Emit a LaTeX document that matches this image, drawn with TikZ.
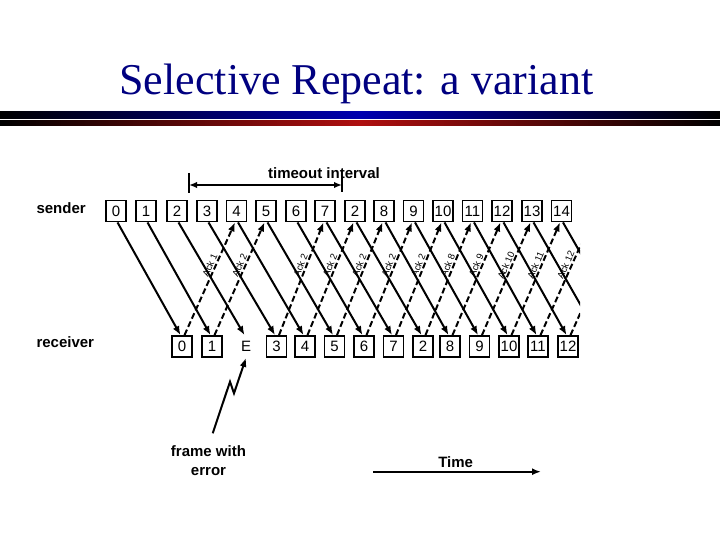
\documentclass[tikz,border=0pt]{standalone}
\usepackage{fontspec}
\setmainfont{Liberation Sans}
\newfontfamily\titlefont{Liberation Serif}
\usetikzlibrary{arrows.meta}
\definecolor{navy}{RGB}{0,0,128}
\definecolor{barblue}{RGB}{0,0,175}
\definecolor{barred}{RGB}{175,15,15}
\begin{document}
\begin{tikzpicture}[x=1pt,y=-1pt,
  box/.style={draw, line width=1.8pt, minimum width=20pt, minimum height=21pt, inner sep=0pt, font=\fontsize{15}{15}\selectfont},
  frame/.style={line width=2pt, -{Latex[length=9pt,width=7pt]}},
  ack/.style={line width=2pt, dash pattern=on 6pt off 3pt, -{Latex[length=9pt,width=7pt]}},
  acklbl/.style={sloped, above, pos=0.6, inner sep=1pt, font=\fontsize{9.5}{9.5}\selectfont},
  lbl/.style={font=\bfseries\fontsize{15}{19}\selectfont},
  tick/.style={line width=2pt}
]
\useasboundingbox (0,0) rectangle (720,540);
% title
\node[anchor=base, text=navy, font=\titlefont\fontsize{44}{44}\selectfont] (title) at (356.5,95) {Selective Repeat: a variant};
\fill[left color=black, right color=black, middle color=barblue] (0,111.5) rectangle (720,118.3);
\fill[left color=black, right color=black, middle color=barred] (0,120.5) rectangle (720,125.3);
% labels
\node[lbl, anchor=west] (snd) at (33,208) {sender};
\node[lbl, anchor=west] (rcv) at (33,342) {receiver};
\node[lbl] (tmo) at (324,173) {timeout interval};
\node[lbl, align=center] (err) at (208.5,461) {frame with\\error};
\node[lbl] (time) at (455.7,462) {Time};
% sender boxes
\foreach \x/\t [count=\i from 0] in {116/0,146/1,177/2,207/3,236.5/4,266/5,296/6,325/7,355/2,384/8,413.5/9,443/10,472.5/11,502/12,532/13,561.5/14}
  \node[box] (s\i) at (\x,211) {\t};
% receiver boxes
\foreach \i/\x/\t in {0/182/0,1/212/1,3/276.5/3,4/305/4,5/334.5/5,6/364/6,7/393.5/7,8/423/2,9/450/8,10/479.5/9,11/509/10,12/538/11,13/568/12}
  \node[box] (r\i) at (\x,346.5) {\t};
\node[box, draw=none] (r2) at (246,346.5) {E};
% free ends
\coordinate (f14) at (598,335.5);
\coordinate (f15) at (627.5,335.5);
\coordinate (a12) at (591,222);
\coordinate (a13) at (621,222);
\begin{scope}
\clip (0,0) rectangle (580,540);
\foreach \i in {0,...,13}
  \draw[frame] ([xshift=1.5pt]s\i.south) -- ([xshift=-1.5pt]r\i.north);
\draw[frame] ([xshift=1.5pt]s14.south) -- (f14);
\draw[frame] ([xshift=1.5pt]s15.south) -- (f15);
\foreach \j/\k/\lab in {0/4/Ack 1,1/5/Ack 2,3/7/Ack 2,4/8/Ack 2,5/9/Ack 2,6/10/Ack 2,7/11/Ack 2,8/12/Ack 8,9/13/Ack 9,10/14/Ack 10,11/15/Ack 11}
  \draw[ack] ([xshift=2.5pt]r\j.north) -- ([xshift=-1.5pt]s\k.south) node[acklbl] {\lab};
\draw[ack] ([xshift=2.5pt]r12.north) -- (a12) node[acklbl] {Ack 12};
\draw[ack] ([xshift=2.5pt]r13.north) -- (a13);
\end{scope}
% timeout interval
\coordinate (tl) at (189,185);
\coordinate (tr) at (342,185);
\coordinate (tlt) at (189,173);
\coordinate (tlb) at (189,193);
\coordinate (trt) at (342,176);
\coordinate (trb) at (342,192);
\draw[tick] (tlt) -- (tlb);
\draw[tick] (trt) -- (trb);
\draw[line width=1.8pt, {Latex[length=8pt,width=6.5pt]}-{Latex[length=8pt,width=6.5pt]}] (tl) -- (tr);
% lightning
\coordinate (lz0) at (212.7,433.3);
\coordinate (lz1) at (230,381.7);
\coordinate (lz2) at (234,393.3);
\draw[line width=2pt, -{Latex[length=9pt,width=7pt]}] (lz0) -- (lz1) -- (lz2) -- (r2.south);
% time axis
\coordinate (t0) at (373,471.7);
\coordinate (t1) at (541,471.7);
\draw[line width=2pt, -{Latex[length=9pt,width=7pt]}] (t0) -- (t1);
\end{tikzpicture}
\end{document}
